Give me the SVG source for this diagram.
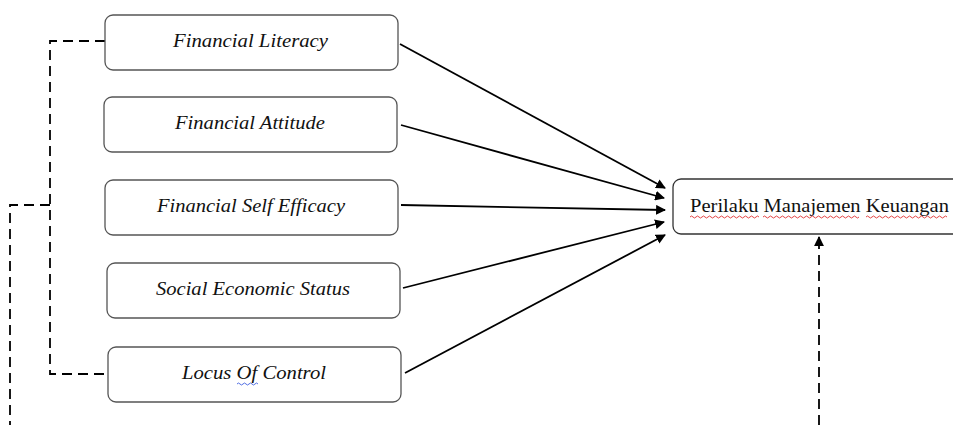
<svg xmlns="http://www.w3.org/2000/svg" width="953" height="425" viewBox="0 0 953 425">
<style>
.box{fill:#fff;stroke:#555;stroke-width:1.3}
.lbl{font-family:"Liberation Serif",serif;font-style:italic;font-size:18.5px;fill:#111;text-anchor:middle}
.tl{font-family:"Liberation Serif",serif;font-size:19px;fill:#111}
.arr{stroke:#000;stroke-width:1.8;fill:none;marker-end:url(#ah)}
.dash{stroke:#000;stroke-width:1.8;fill:none;stroke-dasharray:10,6}
.sq{fill:none;stroke-width:0.9}
</style>
<defs>
<marker id="ah" viewBox="0 0 10 10" refX="9" refY="5" markerWidth="5.5" markerHeight="5.5" orient="auto" markerUnits="strokeWidth">
<path d="M0,0 L10,5 L0,10 z" fill="#000"/>
</marker>
</defs>
<g id="connectors">
<path class="dash" d="M105,41 H50 V374 H108"/>
<path class="dash" d="M50,205 H10 V425"/>
<path class="dash" d="M819,425 V245"/>
<path d="M819,246 V237" stroke="#000" stroke-width="1.8" marker-end="url(#ah)"/>
<line class="arr" x1="400" y1="44" x2="665" y2="188"/>
<line class="arr" x1="401" y1="125" x2="664" y2="198"/>
<line class="arr" x1="401" y1="205" x2="665" y2="210"/>
<line class="arr" x1="403" y1="288" x2="664" y2="222"/>
<line class="arr" x1="405" y1="373" x2="665" y2="235"/>
</g>
<g id="n1"><rect class="box" x="105" y="15" width="293" height="55" rx="8"/><text class="lbl" x="250.5" y="47" textLength="155" lengthAdjust="spacingAndGlyphs">Financial Literacy</text></g>
<g id="n2"><rect class="box" x="104" y="97" width="293" height="55" rx="8"/><text class="lbl" x="250" y="129" textLength="150" lengthAdjust="spacingAndGlyphs">Financial Attitude</text></g>
<g id="n3"><rect class="box" x="105" y="180" width="293" height="55" rx="8"/><text class="lbl" x="251" y="212" textLength="188" lengthAdjust="spacingAndGlyphs">Financial Self Efficacy</text></g>
<g id="n4"><rect class="box" x="107" y="263" width="293" height="55" rx="8"/><text class="lbl" x="253" y="295" textLength="194" lengthAdjust="spacingAndGlyphs">Social Economic Status</text></g>
<g id="n5"><rect class="box" x="108" y="347" width="293" height="55" rx="8"/><text class="lbl" x="254" y="379" textLength="144" lengthAdjust="spacingAndGlyphs">Locus Of Control</text>
<path class="sq" stroke="#4060e0" d="M237,384 q1.5,-2 3,0 t3,0 t3,0 t3,0 t3,0 t3,0 t3,0"/></g>
<g id="target"><rect x="673" y="179" width="300" height="55" rx="8" fill="#fff" stroke="#333" stroke-width="1.3"/>
<text class="tl" x="690" y="212" textLength="259" lengthAdjust="spacingAndGlyphs">Perilaku Manajemen Keuangan</text>
<path class="sq" stroke="#e03030" d="M690,217 q1.5,-2 3,0 t3,0 t3,0 t3,0 t3,0 t3,0 t3,0 t3,0 t3,0 t3,0 t3,0 t3,0 t3,0 t3,0 t3,0 t3,0 t3,0 t3,0 t3,0 t3,0 t3,0 t3,0 t3,0"/>
<path class="sq" stroke="#e03030" d="M763,217 q1.5,-2 3,0 t3,0 t3,0 t3,0 t3,0 t3,0 t3,0 t3,0 t3,0 t3,0 t3,0 t3,0 t3,0 t3,0 t3,0 t3,0 t3,0 t3,0 t3,0 t3,0 t3,0 t3,0 t3,0 t3,0 t3,0 t3,0 t3,0 t3,0 t3,0 t3,0 t3,0 t3,0"/>
<path class="sq" stroke="#e03030" d="M866,217 q1.5,-2 3,0 t3,0 t3,0 t3,0 t3,0 t3,0 t3,0 t3,0 t3,0 t3,0 t3,0 t3,0 t3,0 t3,0 t3,0 t3,0 t3,0 t3,0 t3,0 t3,0 t3,0 t3,0 t3,0 t3,0 t3,0 t3,0 t3,0"/>
</g>
</svg>
